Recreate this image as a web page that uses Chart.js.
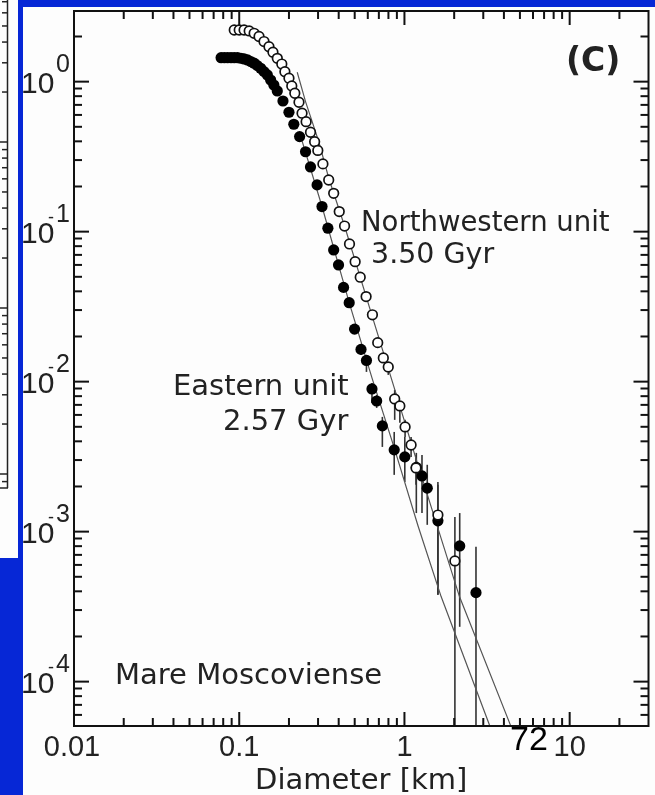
<!DOCTYPE html>
<html>
<head>
<meta charset="utf-8">
<script src="https://cdn.jsdelivr.net/npm/chart.js@4.4.1/dist/chart.umd.min.js"></script>
<style>
  html, body { margin: 0; padding: 0; background: #fff; }
  #wrap { position: relative; width: 655px; height: 795px; }
</style>
</head>
<body>
<div id="wrap"><canvas id="chart"></canvas></div>
<script>
// Northwestern unit (open circles): diameter [km], cumulative density
const nwD = [0.0933, 0.100, 0.107, 0.1149, 0.1231, 0.1318, 0.1413, 0.1514, 0.160, 0.170, 0.181, 0.189, 0.200, 0.208,
  0.217, 0.230, 0.240, 0.254, 0.270, 0.286, 0.299, 0.321, 0.348, 0.373, 0.403, 0.434, 0.465, 0.503, 0.540, 0.586,
  0.640, 0.689, 0.745, 0.798, 0.873, 0.938, 1.009, 1.097, 1.175, 1.594, 2.02];
const nwN = [2.21, 2.21, 2.21, 2.18, 2.10, 2.00, 1.85, 1.71, 1.57, 1.43, 1.31, 1.166, 1.054, 0.936,
  0.837, 0.729, 0.616, 0.541, 0.460, 0.398, 0.348, 0.283, 0.221, 0.180, 0.136, 0.109, 0.0828, 0.0631, 0.0497, 0.0369,
  0.0279, 0.0182, 0.0144, 0.01253, 0.00767, 0.00689, 0.00499, 0.00378, 0.00266, 0.00129, 0.000638];
// error bars of the open circles (0 = runs off the bottom)
const nwBarD  = [0.798, 0.873, 0.938, 1.009, 1.097, 1.175, 1.594, 2.02];
const nwBarHi = [0.01353, 0.00881, 0.00733, 0.00556, 0.00428, 0.00324, 0.00205, 0.001253];
const nwBarLo = [0.01109, 0.00556, 0.00531, 0.00428, 0.00315, 0.00205, 0.000379, 0];

// Eastern unit (filled circles)
const eD = [0.0777, 0.0813, 0.0851, 0.0892, 0.0933, 0.0977, 0.1024, 0.107, 0.1122, 0.1175, 0.1231, 0.1288, 0.1349,
  0.1413, 0.148, 0.155, 0.162, 0.170, 0.184, 0.200, 0.214, 0.232, 0.252, 0.270, 0.296, 0.317, 0.344, 0.373, 0.399,
  0.428, 0.463, 0.499, 0.546, 0.589, 0.636, 0.679, 0.735, 0.867, 1.005, 1.180, 1.277, 1.374, 1.594, 2.16, 2.71];
const eN = [1.445, 1.445, 1.445, 1.445, 1.445, 1.445, 1.432, 1.417, 1.395, 1.359, 1.327, 1.279, 1.228,
  1.166, 1.108, 1.026, 0.950, 0.867, 0.743, 0.625, 0.520, 0.430, 0.341, 0.270, 0.205, 0.147, 0.1054, 0.0755, 0.060,
  0.0425, 0.0336, 0.0224, 0.0164, 0.01385, 0.00894, 0.00743, 0.00507, 0.00351, 0.00315, 0.00268, 0.00235, 0.00195,
  0.00118, 0.000803, 0.000392];
const eBarD  = [0.546, 0.589, 0.636, 0.679, 0.735, 0.867, 1.005, 1.180, 1.277, 1.374, 1.594, 2.16, 2.71];
const eBarHi = [0.01758, 0.01507, 0.0098, 0.00815, 0.00582, 0.00462, 0.00428, 0.00335, 0.00324, 0.00279, 0.00214, 0.00133, 0.000794];
const eBarLo = [0.01507, 0.01161, 0.00721, 0.00668, 0.00367, 0.00239, 0.00214, 0.00133, 0.00133, 0.00111, 0.000379, 0.000232, 0];

// isochrons
const nwFitD = [0.2244, 0.252, 0.303, 0.348, 0.434, 0.648, 0.875, 1.181, 2.153, 4.40];
const nwFitN = [1.155, 0.736, 0.398, 0.228, 0.109, 0.0258, 0.00881, 0.00301, 0.000369, 0.0000507];
const eFitD = [0.239, 0.317, 0.463, 0.636, 0.875, 1.209, 1.667, 3.27];
const eFitN = [0.409, 0.147, 0.0336, 0.01059, 0.00351, 0.00109, 0.000369, 0.0000514];

// axes
const xTickValues = [0.01, 0.1, 1, 10];
const xTickLabels = ['0.01', '0.1', '1', '10'];
const yTickExps = [0, -1, -2, -3, -4];

const BLUE = '#0627d6';
const TEXT = '#222';

const pts = (xs, ys) => xs.map((v, i) => ({ x: v, y: ys[i] }));

function seg(ctx, x1, y1, x2, y2) {
  ctx.beginPath(); ctx.moveTo(x1, y1); ctx.lineTo(x2, y2); ctx.stroke();
}

const slideFrame = {
  id: 'slideFrame',
  beforeDraw(chart) {
    const ctx = chart.ctx;
    ctx.save();
    ctx.fillStyle = '#fdfdfd';
    ctx.fillRect(0, 0, chart.width, chart.height);
    // neighbouring panel peeking in on the left
    ctx.strokeStyle = '#222';
    ctx.lineWidth = 1.5;
    seg(ctx, 7.5, 0, 7.5, 488);
    seg(ctx, 0, 488, 8, 488);
    [-24, 142, 308, 474].forEach(yd => {
      if (yd > 0) seg(ctx, 0, yd, 7.5, yd);
      for (let m = 2; m <= 9; m++) {
        const ty = yd + 166 * (1 - Math.log10(m));
        if (ty > 0 && ty < 488) seg(ctx, 2, ty, 7.5, ty);
      }
    });
    ctx.fillStyle = BLUE;
    ctx.fillRect(18, 0, chart.width - 18, 7);
    ctx.fillRect(18, 0, 5, chart.height);
    ctx.fillRect(0, 558, 23, chart.height - 558);
    ctx.restore();
  }
};

function drawBars(ctx, a, x, y, ds, his, los) {
  ds.forEach((d, i) => {
    const px = x.getPixelForValue(d);
    const top = Math.max(a.top, y.getPixelForValue(his[i]));
    const bot = los[i] > 0 ? Math.min(a.bottom, y.getPixelForValue(los[i])) : a.bottom;
    seg(ctx, px, top, px, bot);
  });
}

const axesPlugin = {
  id: 'axesPlugin',
  beforeDatasetsDraw(chart) {
    const { ctx, chartArea: a, scales: { x, y } } = chart;
    ctx.save();
    ctx.strokeStyle = '#333';
    ctx.lineWidth = 1.6;
    drawBars(ctx, a, x, y, eBarD, eBarHi, eBarLo);
    drawBars(ctx, a, x, y, nwBarD, nwBarHi, nwBarLo);
    ctx.restore();
  },
  afterDraw(chart) {
    const { ctx, chartArea: a, scales: { x, y } } = chart;
    ctx.save();
    ctx.strokeStyle = '#111';
    ctx.lineWidth = 2;
    ctx.strokeRect(a.left, a.top, a.right - a.left, a.bottom - a.top);
    // x ticks, inward on bottom and top
    for (let k = -2; k <= 1; k++) {
      for (let m = 1; m <= 9; m++) {
        const v = m * Math.pow(10, k);
        if (v <= x.min || v >= x.max) continue;
        const px = x.getPixelForValue(v);
        const len = m === 1 ? 14 : 8;
        seg(ctx, px, a.bottom, px, a.bottom - len);
        seg(ctx, px, a.top, px, a.top + len);
      }
    }
    // y ticks, inward on left and right
    for (let k = -5; k <= 0; k++) {
      for (let m = 1; m <= 9; m++) {
        const v = m * Math.pow(10, k);
        if (v <= y.min || v >= y.max) continue;
        const py = y.getPixelForValue(v);
        const len = m === 1 ? 15 : 8;
        seg(ctx, a.left, py, a.left + len, py);
        seg(ctx, a.right, py, a.right - len, py);
      }
    }
    ctx.fillStyle = TEXT;
    ctx.textBaseline = 'alphabetic';
    // x tick labels
    ctx.font = '29px "Liberation Sans", Arial, sans-serif';
    ctx.textAlign = 'center';
    xTickValues.forEach((v, i) => {
      ctx.fillText(xTickLabels[i], x.getPixelForValue(v) + (i === 0 ? -2 : 0), a.bottom + 30);
    });
    // y tick labels 10^n
    yTickExps.forEach(e => {
      const py = y.getPixelForValue(Math.pow(10, e));
      ctx.textAlign = 'left';
      ctx.font = '30px "Liberation Sans", Arial, sans-serif';
      ctx.fillText('10', 21, py + 11);
      ctx.font = '25px "Liberation Sans", Arial, sans-serif';
      ctx.fillText(String(Math.abs(e)), 56, py - 10);
      if (e < 0) {
        ctx.font = '18px "Liberation Sans", Arial, sans-serif';
        ctx.fillText('-', 48, py - 9);
      }
    });
    // axis title
    ctx.font = '29px "DejaVu Sans", sans-serif';
    ctx.textAlign = 'center';
    ctx.fillText('Diameter [km]', (a.left + a.right) / 2, 789);
    // annotations
    ctx.textAlign = 'left';
    ctx.font = 'bold 33px "DejaVu Sans", sans-serif';
    ctx.fillText('(C)', 566, 71);
    ctx.font = '27.5px "DejaVu Sans", sans-serif';
    ctx.fillText('Northwestern unit', 361, 231);
    ctx.font = '28.5px "DejaVu Sans", sans-serif';
    ctx.fillText('3.50 Gyr', 371, 263);
    ctx.font = '29px "DejaVu Sans", sans-serif';
    ctx.fillText('Eastern unit', 173, 395);
    ctx.fillText('2.57 Gyr', 223, 430);
    ctx.fillText('Mare Moscoviense', 115, 684);
    // slide number
    ctx.fillStyle = '#000';
    ctx.font = '34px "Liberation Sans", Arial, sans-serif';
    ctx.fillText('72', 510, 750);
    ctx.restore();
  }
};

new Chart(document.getElementById('chart'), {
  type: 'scatter',
  data: {
    datasets: [
      {
        label: 'Northwestern unit',
        data: pts(nwD, nwN),
        pointRadius: 4.8,
        pointBackgroundColor: '#fff',
        pointBorderColor: '#111',
        pointBorderWidth: 1.7,
        order: 1
      },
      {
        label: 'Eastern unit',
        data: pts(eD, eN),
        pointRadius: 5.6,
        pointBackgroundColor: '#000',
        pointBorderColor: '#000',
        pointBorderWidth: 0,
        order: 2
      },
      {
        label: '3.50 Gyr',
        data: pts(nwFitD, nwFitN),
        showLine: true,
        pointRadius: 0,
        borderColor: '#555',
        borderWidth: 1.2,
        order: 3
      },
      {
        label: '2.57 Gyr',
        data: pts(eFitD, eFitN),
        showLine: true,
        pointRadius: 0,
        borderColor: '#555',
        borderWidth: 1.2,
        order: 3
      }
    ]
  },
  options: {
    responsive: true,
    maintainAspectRatio: false,
    devicePixelRatio: 1,
    animation: false,
    layout: { padding: { left: 74, right: 3, top: 11, bottom: 69 } },
    plugins: { legend: { display: false }, tooltip: { enabled: false } },
    scales: {
      x: { type: 'logarithmic', min: 0.01, max: 30, display: false },
      y: { type: 'logarithmic', min: 5.06e-5, max: 2.958, display: false }
    }
  },
  plugins: [slideFrame, axesPlugin]
});
</script>
</body>
</html>
